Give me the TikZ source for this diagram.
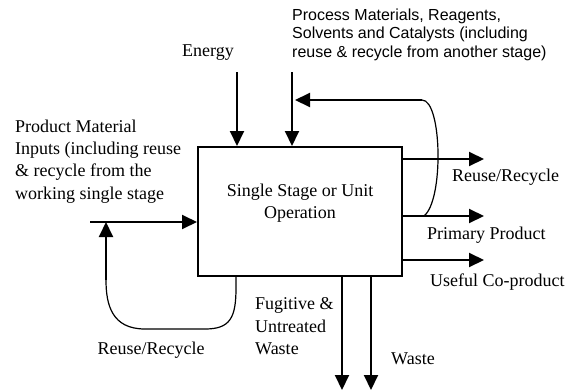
\documentclass[tikz,border=0pt]{standalone}
\usepackage{fontspec}
\setmainfont{Liberation Serif}
\newfontfamily\arialfont{Liberation Sans}
\usetikzlibrary{arrows.meta}
\begin{document}
\begin{tikzpicture}[x=1pt,y=-1pt,
  arr/.style={line width=2pt,-{Triangle[length=15pt,width=14pt]}},
  thinline/.style={line width=1.2pt},
  serif/.style={font=\fontsize{18}{22.3}\selectfont,inner sep=0pt},
  sans/.style={font=\arialfont\fontsize{16}{18.6}\selectfont,inner sep=0pt}]
\useasboundingbox (0,0) rectangle (584,391);
% main box
\node[draw,line width=2pt,minimum width=204pt,minimum height=129pt,inner sep=0pt] (box) at (300,211.5) {};
\node[serif,align=center] (boxlabel) at (300,203) {Single Stage or Unit\\Operation};
% top inputs
\node[serif] (energy) at (208,53) {Energy};
\node[sans,anchor=west,align=left] (proc) at (292,34.5) {Process Materials, Reagents,\\Solvents and Catalysts (including\\reuse \& recycle from another stage)};
\coordinate (e0) at (237,72);
\coordinate (p0) at (292,72);
\draw[arr] (e0) -- (e0 |- box.north);
\draw[arr] (p0) -- (p0 |- box.north);
% left input
\node[serif,anchor=west,align=left] (prod) at (15,161.5) {Product Material\\Inputs (including reuse\\\& recycle from the\\working single stage};
\coordinate (in0) at (90,222);
\draw[arr] (in0) -- (in0 -| box.west);
% right outputs
\coordinate (o1) at (484,159);
\coordinate (o2) at (484,216);
\coordinate (o3) at (484,260);
\draw[arr] (o1 -| box.east) -- (o1);
\draw[arr] (o2 -| box.east) -- (o2);
\draw[arr] (o3 -| box.east) -- (o3);
\node[serif,anchor=west] (lreuse) at (452,177) {Reuse/Recycle};
\node[serif,anchor=west] (lprim) at (427,235) {Primary Product};
\node[serif,anchor=west] (luse) at (430,282) {Useful Co-product};
% top recycle loop
\coordinate (ls) at (424,216);
\coordinate (lt) at (422,100);
\coordinate (ltip) at (295,100);
\draw[thinline] (ls) .. controls (444,200) and (442,100) .. (lt);
\draw[arr] (lt) -- (ltip);
% bottom left recycle loop
\coordinate (bs) at (236,276);
\coordinate (bc) at (106,280);
\coordinate (btip) at (106,222);
\draw[thinline] (bs) -- (236,288) .. controls (236,318) and (230,329) .. (205,329) -- (145,329) .. controls (112,329) and (106,305) .. (bc);
\draw[arr] (bc) -- (btip);
\node[serif] (lbreuse) at (151,350) {Reuse/Recycle};
% bottom outputs
\coordinate (w1) at (342,390);
\coordinate (w2) at (371,390);
\draw[arr] (w1 |- box.south) -- (w1);
\draw[arr] (w2 |- box.south) -- (w2);
\node[serif,anchor=west,align=left,font=\fontsize{18}{22.5}\selectfont] (fug) at (255,326.5) {Fugitive \&\\Untreated\\Waste};
\node[serif] (waste) at (413,359) {Waste};
\end{tikzpicture}
\end{document}
